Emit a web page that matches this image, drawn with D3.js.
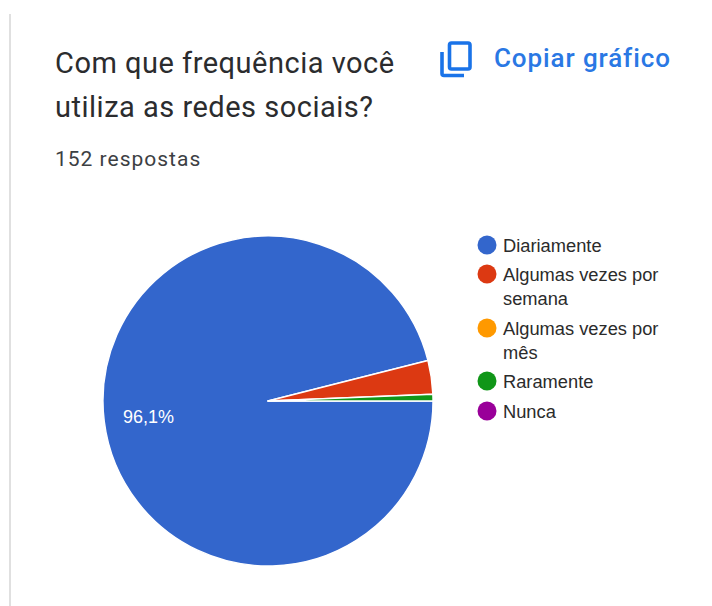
<!DOCTYPE html>
<html>
<head>
<meta charset="utf-8">
<script src="https://cdnjs.cloudflare.com/ajax/libs/d3/7.8.5/d3.min.js"></script>
<style>
html,body{margin:0;padding:0;background:#fff;}
svg{display:block;}
</style>
</head>
<body>
<script>
// Survey responses per answer option
const categories = ["Diariamente", "Algumas vezes por semana", "Algumas vezes por mês", "Raramente", "Nunca"];
const responses = [146, 5, 0, 1, 0];
const sliceColors = ["#3366cc", "#dc3912", "#ff9900", "#109618", "#990099"];
const legendLines = [["Diariamente"], ["Algumas vezes por", "semana"], ["Algumas vezes por", "mês"], ["Raramente"], ["Nunca"]];
const titleLines = ["Com que frequência você", "utiliza as redes sociais?"];
const subtitle = "152 respostas";
const copyLabel = "Copiar gráfico";
const pctLabel = "96,1%";

const W = 712, H = 606;
const font = "Roboto, 'Liberation Sans', Arial, sans-serif";
const legendFont = "'Liberation Sans', Arial, sans-serif";

const svg = d3.select("body").append("svg").attr("width", W).attr("height", H);
svg.append("rect").attr("width", W).attr("height", H).attr("fill", "#fff");

// Card edge on the left
svg.append("line").attr("x1", 10).attr("x2", 10).attr("y1", 14).attr("y2", H)
  .attr("stroke", "#e0e0e0").attr("stroke-width", 2);

// Heading
svg.selectAll("text.title").data(titleLines).join("text").attr("class", "title")
  .attr("x", 55).attr("y", (d, i) => 73 + i * 43.5)
  .attr("font-family", font).attr("font-size", 29).attr("letter-spacing", 0.5)
  .attr("fill", "#2b2c2e").text(d => d);

svg.append("text").attr("x", 55).attr("y", 166)
  .attr("font-family", font).attr("font-size", 21).attr("letter-spacing", 1)
  .attr("fill", "#3c4043").text(subtitle);

// Copy button
const icon = svg.append("g").attr("fill", "none").attr("stroke", "#1a73e8").attr("stroke-width", 3.6);
icon.append("rect").attr("x", 449.5).attr("y", 43).attr("width", 20.5).attr("height", 26).attr("rx", 2);
icon.append("path").attr("d", "M442 52V73.5a2 2 0 0 0 2 2H464");
svg.append("text").attr("x", 494).attr("y", 67)
  .attr("font-family", font).attr("font-size", 26).attr("font-weight", 500).attr("letter-spacing", 0.9)
  .attr("fill", "#2a78e4").text(copyLabel);

// Pie: slices run clockwise from three o'clock
const cx = 268, cy = 401, radius = 165;
const start = Math.PI / 2;
const pie = d3.pie().sort(null).startAngle(start).endAngle(start + 2 * Math.PI)(responses);
const arc = d3.arc().innerRadius(0).outerRadius(radius);
const plot = svg.append("g").attr("transform", `translate(${cx},${cy})`);
plot.selectAll("path").data(pie.filter(d => d.value > 0)).join("path")
  .attr("d", arc).attr("fill", d => sliceColors[d.index])
  .attr("stroke", "#fff").attr("stroke-width", 1.4).attr("stroke-linejoin", "round");

svg.append("text").attr("x", 123).attr("y", 423)
  .attr("font-family", legendFont).attr("font-size", 18).attr("fill", "#fff").text(pctLabel);

// Legend
const keyY = [245, 274, 328, 381, 411];
const legend = svg.selectAll("g.key").data(categories).join("g").attr("class", "key")
  .attr("transform", (d, i) => `translate(0,${keyY[i]})`);
legend.append("circle").attr("cx", 487).attr("cy", 0).attr("r", 9.5).attr("fill", (d, i) => sliceColors[i]);
legend.each(function (d, i) {
  d3.select(this).selectAll("text").data(legendLines[i]).join("text")
    .attr("x", 503).attr("y", (l, j) => 6.5 + j * 24)
    .attr("font-family", legendFont).attr("font-size", 18.3).attr("fill", "#2b2b2b").text(l => l);
});
</script>
</body>
</html>
